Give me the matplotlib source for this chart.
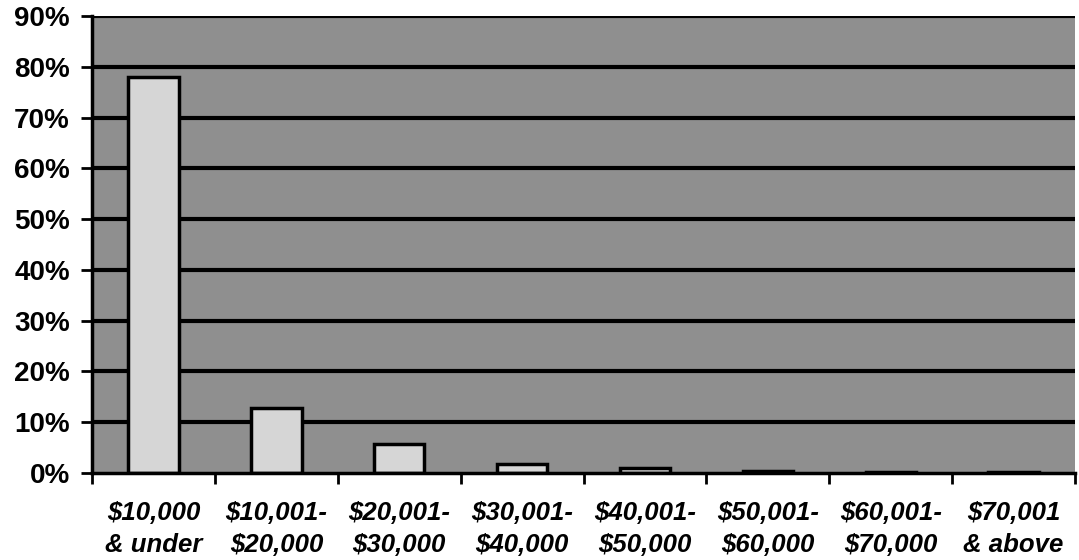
import matplotlib.pyplot as plt
import numpy as np

plt.rcParams['font.family'] = ['Liberation Sans', 'DejaVu Sans']

categories = ['$10,000\n& under', '$10,001-\n$20,000', '$20,001-\n$30,000',
              '$30,001-\n$40,000', '$40,001-\n$50,000', '$50,001-\n$60,000',
              '$60,001-\n$70,000', '$70,001\n& above']
shares = [78.0, 12.8, 5.8, 1.8, 0.9, 0.3, 0.2, 0.2]
y_ticks = [0, 10, 20, 30, 40, 50, 60, 70, 80, 90]

fig = plt.figure(figsize=(10.79, 5.60), dpi=100)
ax = fig.add_axes([0.0853, 0.1554, 0.911, 0.8160])
ax.set_facecolor('#8f8f8f')

x = np.arange(len(categories))
for t in y_ticks[1:]:
    ax.axhline(t, color='black', linewidth=3, zorder=1)
ax.bar(x, shares, width=0.41, color='#d6d6d6', edgecolor='black',
       linewidth=2.5, zorder=2)

ax.set_xlim(-0.5, len(categories) - 0.5)
ax.set_ylim(0, 90)
ax.set_yticks(y_ticks)
ax.set_yticklabels(['{}%'.format(t) for t in y_ticks], fontsize=20,
                   fontweight='bold')
ax.set_xticks(x)
ax.set_xticklabels(categories, fontsize=18.5, fontweight='bold',
                   fontstyle='italic', linespacing=1.45)
ax.tick_params(axis='x', length=0, pad=20)
ax.set_xticks(np.arange(len(categories) + 1) - 0.5, minor=True)
ax.tick_params(axis='x', which='minor', length=8, width=2, direction='out')
ax.tick_params(axis='y', length=8, width=2, direction='out', pad=8)

for s in ['left', 'bottom']:
    ax.spines[s].set_linewidth(2.5)
ax.spines['top'].set_visible(False)
ax.spines['right'].set_visible(False)

plt.savefig('out.png', dpi=100)
